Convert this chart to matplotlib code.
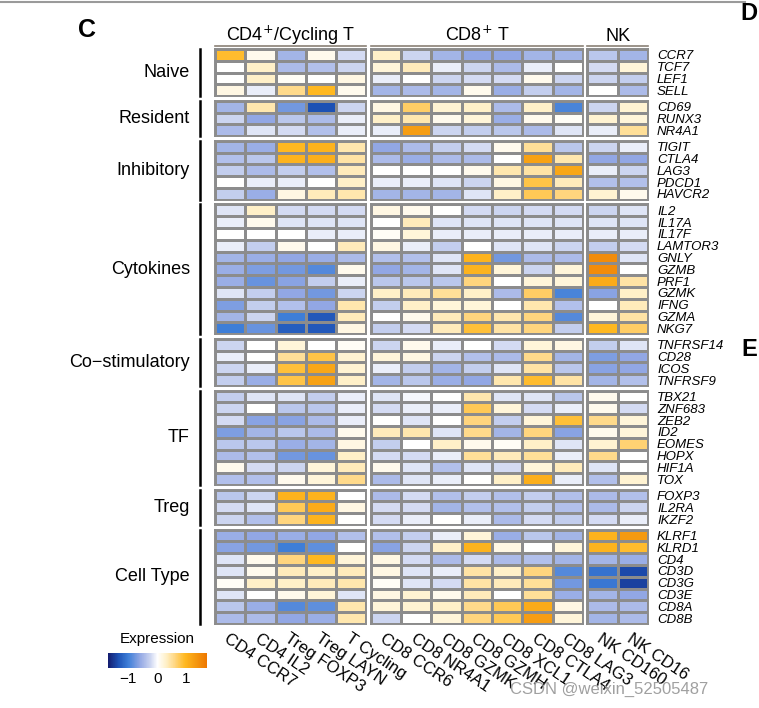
import numpy as np
import matplotlib.pyplot as plt
import matplotlib as mpl
from matplotlib.colors import LinearSegmentedColormap
from matplotlib.lines import Line2D
from matplotlib.transforms import blended_transform_factory as blend

plt.rcParams['font.family'] = ['Liberation Sans', 'DejaVu Sans']

# columns (clusters) and their lineage groups
clusters = ['CD4 CCR7', 'CD4 IL2', 'Treg FOXP3', 'Treg LAYN', 'T Cycling',
            'CD8 CCR6', 'CD8 NR4A1', 'CD8 GZMK', 'CD8 GZMH', 'CD8 XCL1', 'CD8 CTLA4', 'CD8 LAG3',
            'NK CD160', 'NK CD16']
lineages = ['CD4$^{+}$/Cycling T', 'CD8$^{+}$ T', 'NK']
lineage_sizes = [5, 7, 2]

modules = ['Naive', 'Resident', 'Inhibitory', 'Cytokines', 'Co\u2212stimulatory', 'TF', 'Treg', 'Cell Type']

genes_naive = ['CCR7', 'TCF7', 'LEF1', 'SELL']
naive = [
    [0.9, 0.1, -0.5, 0.1, -0.2, 0.3, -0.25, -0.5, -0.6, -0.6, -0.5, -0.5, -0.35, -0.5],
    [0.0, 0.3, -0.45, -0.4, -0.25, 0.2, 0.35, -0.1, -0.25, -0.45, -0.1, 0.0, -0.2, 0.2],
    [0.0, 0.3, 0.05, 0.0, 0.15, -0.1, 0.0, -0.25, -0.2, -0.2, 0.1, -0.25, -0.25, -0.3],
    [0.15, -0.1, 0.55, 0.95, 0.1, -0.5, -0.45, -0.5, 0.1, -0.55, -0.3, -0.5, 0.0, -0.45],
]
genes_resident = ['CD69', 'RUNX3', 'NR4A1']
resident = [
    [-0.5, 0.4, -0.75, -1.35, -0.25, 0.15, 0.7, 0.25, 0.3, -0.45, 0.3, -0.95, -0.25, 0.25],
    [-0.25, -0.6, -0.35, -0.45, -0.1, 0.3, 0.4, 0.1, 0.2, -0.55, 0.1, 0.05, 0.25, 0.2],
    [-0.45, -0.15, -0.2, -0.4, -0.1, -0.1, 1.25, -0.25, -0.3, -0.35, -0.45, -0.15, -0.1, 0.5],
]
genes_inhib = ['TIGIT', 'CTLA4', 'LAG3', 'PDCD1', 'HAVCR2']
inhibitory = [
    [-0.5, -0.55, 0.95, 1.0, 0.4, -0.6, -0.45, -0.3, -0.2, 0.1, 0.5, -0.35, -0.25, -0.1],
    [-0.4, -0.35, 1.0, 1.05, 0.45, -0.45, -0.55, -0.45, -0.45, 0.0, 1.2, 0.4, -0.6, -0.6],
    [-0.3, -0.45, -0.3, -0.4, 0.35, 0.0, 0.0, 0.0, 0.1, 0.4, 0.45, 1.15, -0.1, -0.25],
    [0.0, -0.1, -0.1, 0.0, 0.3, -0.1, -0.1, -0.15, -0.25, 0.15, 0.8, 0.35, -0.4, -0.4],
    [-0.3, -0.55, 0.15, 0.35, 0.4, -0.5, -0.5, -0.5, -0.15, 0.3, 0.75, 0.6, 0.25, 0.1],
]
genes_cyto = ['IL2', 'IL17A', 'IL17F', 'LAMTOR3', 'GNLY', 'GZMB', 'PRF1', 'GZMK', 'IFNG', 'GZMA', 'NKG7']
cytokines = [
    [-0.15, 0.3, -0.2, -0.2, -0.2, 0.15, 0.1, 0.0, -0.2, -0.25, -0.2, -0.2, -0.25, -0.15],
    [-0.1, 0.1, -0.15, -0.15, -0.15, 0.0, 0.35, -0.15, -0.15, -0.15, -0.15, -0.15, -0.15, -0.15],
    [0.0, 0.0, 0.0, -0.1, -0.1, 0.05, 0.2, -0.1, -0.1, -0.1, -0.1, -0.1, -0.1, -0.1],
    [-0.1, -0.3, 0.1, 0.0, 0.35, 0.15, -0.1, -0.3, 0.0, -0.15, -0.15, -0.25, -0.3, -0.2],
    [-0.5, -0.55, -0.6, -0.55, -0.45, -0.4, -0.4, -0.15, 1.0, -0.75, -0.45, -0.45, 1.45, -0.15],
    [-0.55, -0.7, -0.75, -0.9, 0.1, -0.6, -0.5, -0.15, 1.0, 0.2, -0.25, 0.2, 1.45, 0.0],
    [-0.55, -0.8, -0.65, -0.3, -0.1, -0.35, -0.35, -0.35, 0.6, 0.0, 0.2, 0.2, 1.1, 0.45],
    [-0.15, -0.3, -0.6, -0.75, -0.25, 0.3, 0.35, 0.5, 0.3, -0.45, 0.7, -0.95, -0.65, 0.3],
    [-0.7, -0.3, -0.4, -0.6, 0.4, -0.3, 0.3, 0.2, 0.2, 0.0, 0.4, -0.4, 0.0, 0.35],
    [-0.5, -0.25, -1.0, -1.3, 0.35, 0.0, 0.1, 0.35, 0.6, 0.4, 0.6, -0.9, 0.2, 0.45],
    [-1.0, -0.8, -1.25, -1.3, 0.15, -0.3, -0.2, 0.35, 0.85, 0.45, 0.6, -0.3, 0.95, 0.7],
]
genes_costim = ['TNFRSF14', 'CD28', 'ICOS', 'TNFRSF9']
costim = [
    [-0.25, 0.0, 0.2, 0.0, 0.05, -0.25, 0.1, -0.1, 0.0, -0.2, 0.2, 0.15, -0.3, -0.15],
    [-0.1, 0.0, 0.5, 0.8, 0.25, 0.2, 0.15, -0.25, -0.4, -0.45, 0.55, -0.5, -0.7, -0.6],
    [-0.25, -0.1, 0.85, 1.15, 0.25, -0.1, -0.3, -0.5, -0.3, -0.15, 0.45, -0.35, -0.65, -0.6],
    [-0.3, -0.55, 0.8, 1.2, 0.3, -0.5, -0.35, -0.55, -0.6, 0.4, 0.9, 0.45, -0.5, -0.4],
]
genes_tf = ['TBX21', 'ZNF683', 'ZEB2', 'ID2', 'EOMES', 'HOPX', 'HIF1A', 'TOX']
tf = [
    [-0.3, -0.15, -0.15, -0.3, -0.1, -0.15, -0.05, 0.0, 0.4, -0.15, -0.15, -0.35, 0.1, 0.0],
    [-0.25, 0.0, -0.35, -0.35, -0.1, -0.2, -0.1, -0.1, 0.75, 0.2, -0.2, -0.1, 0.1, -0.2],
    [-0.2, -0.65, -0.65, -0.45, -0.1, 0.0, -0.15, 0.0, 0.6, -0.3, 0.2, 0.85, 0.55, 0.2],
    [-0.7, -0.5, -0.35, -0.45, 0.1, 0.35, 0.4, -0.15, 0.55, -0.5, 0.6, -0.65, 0.1, 0.2],
    [-0.35, -0.35, -0.55, -0.5, 0.15, -0.3, 0.0, 0.3, 0.1, 0.05, 0.3, -0.15, 0.25, 0.65],
    [-0.45, -0.4, -0.75, -0.8, 0.3, -0.2, -0.2, -0.1, 0.5, 0.35, 0.5, -0.1, 0.55, 0.0],
    [0.1, -0.2, -0.25, 0.2, 0.35, 0.1, -0.15, -0.4, -0.15, -0.2, 0.2, 0.35, -0.15, 0.0],
    [-0.4, -0.4, 0.1, 0.2, 0.55, -0.45, -0.15, -0.1, 0.0, 0.3, 1.05, -0.1, -0.4, 0.25],
]
genes_treg = ['FOXP3', 'IL2RA', 'IKZF2']
treg = [
    [-0.35, -0.25, 1.0, 1.0, 0.0, -0.45, -0.2, -0.4, -0.3, -0.4, -0.3, -0.4, -0.45, -0.4],
    [-0.2, -0.15, 0.75, 1.1, 0.15, -0.2, -0.2, -0.5, -0.4, -0.4, -0.3, -0.4, -0.45, -0.25],
    [-0.25, -0.4, 0.6, 1.0, 0.0, -0.2, -0.1, 0.0, -0.1, -0.45, -0.2, -0.3, -0.2, -0.1],
]
genes_celltype = ['KLRF1', 'KLRD1', 'CD4', 'CD3D', 'CD3G', 'CD3E', 'CD8A', 'CD8B']
celltype = [
    [-0.55, -0.6, -0.55, -0.6, -0.4, -0.4, -0.3, -0.1, 0.2, -0.55, -0.35, -0.5, 1.0, 1.3],
    [-0.65, -0.75, -1.0, -0.85, 0.0, -0.65, -0.25, 0.3, 1.0, 0.15, 0.0, 0.2, 1.0, 0.9],
    [-0.15, 0.1, 0.6, 0.95, 0.2, 0.15, -0.2, -0.45, -0.2, -0.45, -0.4, -0.5, -0.5, -0.55],
    [-0.15, 0.1, 0.35, 0.3, 0.35, 0.15, -0.15, -0.1, 0.45, 0.3, 0.6, -0.9, -1.1, -1.4],
    [0.05, 0.3, 0.3, 0.35, 0.4, 0.05, -0.15, -0.2, 0.45, 0.35, 0.5, -0.75, -1.05, -1.45],
    [-0.15, 0.0, 0.1, 0.2, -0.15, 0.15, 0.25, 0.1, 0.35, 0.0, 0.5, -0.55, -0.5, -0.6],
    [-0.35, -0.55, -0.9, -0.85, 0.4, 0.2, 0.25, 0.3, 0.55, 0.75, 1.1, 0.15, -0.45, -0.45],
    [-0.45, -0.45, -0.6, -0.55, 0.4, -0.25, 0.0, 0.2, 0.6, 0.75, 1.25, 0.2, -0.5, -0.45],
]

module_genes = [genes_naive, genes_resident, genes_inhib, genes_cyto, genes_costim, genes_tf, genes_treg, genes_celltype]
module_vals = [naive, resident, inhibitory, cytokines, costim, tf, treg, celltype]

vmin, vmax = -1.7, 1.7
nodes = [(-1.7, '#141c6e'), (-1.35, '#1d52b5'), (-1.0, '#3f7fd8'), (-0.6, '#93a8e4'),
         (-0.25, '#cbd4f0'), (0.0, '#ffffff'), (0.3, '#fff0c8'), (0.6, '#ffd680'),
         (0.95, '#ffb820'), (1.3, '#f59a10'), (1.7, '#ee7700')]
cmap = LinearSegmentedColormap.from_list('expr', [((v - vmin) / (vmax - vmin), c) for v, c in nodes])

W, H = 759, 708
fig = plt.figure(figsize=(W / 100, H / 100), dpi=100)
gs = fig.add_gridspec(len(modules), 3, left=215 / W, right=648 / W, top=1 - 49 / H, bottom=1 - 624 / H,
                      width_ratios=lineage_sizes, height_ratios=[len(g) for g in module_genes],
                      wspace=0.032, hspace=0.068)

grid_col = '#8c8c8c'
col_starts = np.cumsum([0] + lineage_sizes)
for i, (genes, vals) in enumerate(zip(module_genes, module_vals)):
    vals = np.array(vals)
    for j in range(3):
        ax = fig.add_subplot(gs[i, j])
        block = vals[:, col_starts[j]:col_starts[j + 1]]
        ax.pcolormesh(block, cmap=cmap, vmin=vmin, vmax=vmax, edgecolors=grid_col, linewidth=0.9)
        ax.set_xlim(0, block.shape[1])
        ax.set_ylim(block.shape[0], 0)
        ax.set_xticks([])
        ax.set_yticks([])
        for s in ax.spines.values():
            s.set_color(grid_col)
            s.set_linewidth(1.4)
        if j == 2:
            ax.set_yticks(np.arange(len(genes)) + 0.5)
            ax.set_yticklabels(genes, fontsize=9.5, fontstyle='italic')
            ax.tick_params(axis='y', left=False, right=False, labelleft=False, labelright=True, pad=3)
        if j == 0:
            tr = blend(fig.transFigure, ax.transAxes)
            ax.text(190 / W, 0.5, modules[i], transform=tr, ha='right', va='center', fontsize=13)
            fig.add_artist(Line2D([200 / W, 200 / W], [0, 1], transform=tr, color='black', lw=1.8))
        if i == 0:
            tr = blend(ax.transAxes, fig.transFigure)
            ax.text(0.5, 1 - 41 / H, lineages[j], transform=tr, ha='center', va='baseline', fontsize=13)
            fig.add_artist(Line2D([0, 1], [1 - 45.5 / H] * 2, transform=tr, color='#8a8076', lw=1.2))
        if i == len(modules) - 1:
            ax.set_xticks(np.arange(block.shape[1]) + 0.5)
            ax.set_xticklabels(clusters[col_starts[j]:col_starts[j + 1]], rotation=-34,
                               ha='left', va='top', rotation_mode='anchor', fontsize=12)
            ax.tick_params(axis='x', length=0, pad=5)

# legend
fig.text(157 / W, 1 - 639 / H, 'Expression', ha='center', va='center', fontsize=11)
cax = fig.add_axes([108 / W, 1 - 668 / H, 99 / W, 15 / H])
sm = mpl.cm.ScalarMappable(norm=mpl.colors.Normalize(vmin, vmax), cmap=cmap)
cb = fig.colorbar(sm, cax=cax, orientation='horizontal', ticks=[-1, 0, 1])
cb.outline.set_visible(False)
cax.tick_params(length=0, labelsize=11, pad=3)

# panel letters and page bits
fig.text(87 / W, 1 - 30 / H, 'C', ha='center', va='center', fontsize=18, fontweight='bold')
fig.text(740 / W, 1 - 14 / H, 'D', ha='left', va='center', fontsize=17, fontweight='bold')
fig.text(741 / W, 1 - 350 / H, 'E', ha='left', va='center', fontsize=17, fontweight='bold')
fig.add_artist(Line2D([0, 745 / W], [1 - 1.5 / H] * 2, color='#9a9a9a', lw=1.5))
fig.text(510 / W, 1 - 689 / H, 'CSDN @weixin_52505487', ha='left', va='center', fontsize=12, color='#a0a0a0')

plt.savefig('out.png', dpi=100)
